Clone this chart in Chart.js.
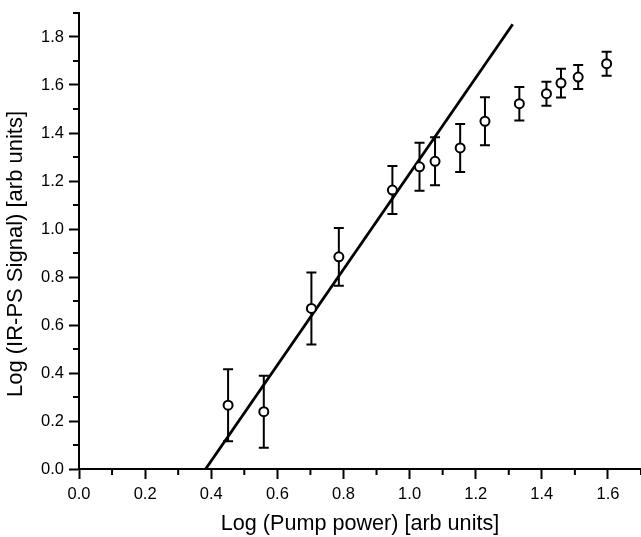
<!DOCTYPE html>
<html>
<head>
<meta charset="utf-8">
<script src="https://cdn.jsdelivr.net/npm/chart.js@4/dist/chart.umd.min.js"></script>
<style>
  body { margin: 0; background: #fff; }
  #wrap { width: 641px; height: 537px; }
</style>
</head>
<body>
<div id="wrap"><canvas id="powerChart" width="641" height="537"></canvas></div>
<script>
// measured points
const pumpLog = [0.451, 0.559, 0.703, 0.786, 0.948, 1.030, 1.077, 1.153, 1.228, 1.332, 1.414, 1.458, 1.510, 1.596];
const signalLog = [0.266, 0.239, 0.669, 0.884, 1.162, 1.259, 1.282, 1.338, 1.449, 1.522, 1.564, 1.608, 1.633, 1.689];
const signalErr = [0.15, 0.15, 0.15, 0.12, 0.10, 0.10, 0.10, 0.10, 0.10, 0.07, 0.05, 0.06, 0.05, 0.05];

// linear fit (slope ~2)
const fitX = [0.383, 1.312];
const fitY = [0.0, 1.853];

const xMax = 1.7;
const yMax = 1.9;

const yTitle = 'Log (IR-PS Signal) [arb units]';
const fontFam = '"Liberation Sans", Arial, sans-serif';

// error bars, drawn under the markers
const errorBars = {
    id: 'errorBars',
    beforeDatasetsDraw(chart) {
        const {ctx, scales: {x, y}} = chart;
        ctx.save();
        ctx.strokeStyle = '#000';
        ctx.lineWidth = 2;
        pumpLog.forEach((v, i) => {
            const px = x.getPixelForValue(v);
            const top = y.getPixelForValue(signalLog[i] + signalErr[i]);
            const bot = y.getPixelForValue(signalLog[i] - signalErr[i]);
            ctx.beginPath();
            ctx.moveTo(px, top);
            ctx.lineTo(px, bot);
            ctx.moveTo(px - 5, top);
            ctx.lineTo(px + 5, top);
            ctx.moveTo(px - 5, bot);
            ctx.lineTo(px + 5, bot);
            ctx.stroke();
        });
        ctx.restore();
    }
};

// short ticks halfway between labelled ones + y title (sits a bit below centre in the original)
const axisExtras = {
    id: 'axisExtras',
    afterDraw(chart) {
        const {ctx, chartArea, scales: {x, y}} = chart;
        ctx.save();
        ctx.strokeStyle = '#000';
        ctx.lineWidth = 2;
        ctx.beginPath();
        for (let v = 0.1; v <= xMax + 0.001; v += 0.2) {
            const px = x.getPixelForValue(v);
            ctx.moveTo(px, x.top);
            ctx.lineTo(px, x.top + 6);
        }
        for (let v = 0.1; v <= yMax + 0.001; v += 0.2) {
            const py = y.getPixelForValue(v);
            ctx.moveTo(y.right, py);
            ctx.lineTo(y.right - 6, py);
        }
        ctx.stroke();

        const cy = (chartArea.top + chartArea.bottom) / 2 + 13;
        ctx.translate(22, cy);
        ctx.rotate(-Math.PI / 2);
        ctx.fillStyle = '#000';
        ctx.font = '22px ' + fontFam;
        ctx.textAlign = 'center';
        ctx.textBaseline = 'alphabetic';
        ctx.fillText(yTitle, 0, 0);
        ctx.restore();
    }
};

new Chart(document.getElementById('powerChart'), {
    type: 'scatter',
    data: {
        datasets: [{
            label: 'data',
            data: pumpLog.map((v, i) => ({x: v, y: signalLog[i]})),
            pointRadius: 4.5,
            pointBackgroundColor: '#fff',
            pointBorderColor: '#000',
            pointBorderWidth: 2,
            order: 1
        }, {
            label: 'fit',
            data: fitX.map((v, i) => ({x: v, y: fitY[i]})),
            showLine: true,
            borderColor: '#000',
            borderWidth: 2.8,
            pointRadius: 0,
            order: 2
        }]
    },
    options: {
        responsive: false,
        animation: false,
        layout: { autoPadding: false, padding: { top: 13, right: 0, left: 0, bottom: 0 } },
        plugins: {
            legend: { display: false },
            tooltip: { enabled: false }
        },
        scales: {
            x: {
                type: 'linear',
                min: 0,
                max: xMax,
                afterFit: (scale) => {
                    scale.height = 68;
                    scale.paddingLeft = 0;
                    scale.paddingRight = 0;
                },
                border: { color: '#000', width: 2 },
                grid: {
                    drawOnChartArea: false,
                    tickLength: 10,
                    tickWidth: 2,
                    tickColor: '#000'
                },
                ticks: {
                    stepSize: 0.2,
                    includeBounds: false,
                    padding: 6,
                    color: '#000',
                    font: { family: fontFam, size: 16.5 },
                    callback: (v) => v.toFixed(1)
                },
                title: {
                    display: true,
                    text: 'Log (Pump power) [arb units]',
                    color: '#000',
                    padding: { top: 0, bottom: 0 },
                    font: { family: fontFam, size: 21.6 }
                }
            },
            y: {
                type: 'linear',
                min: 0,
                max: yMax,
                afterFit: (scale) => {
                    scale.width = 79;
                    scale.paddingTop = 0;
                    scale.paddingBottom = 0;
                },
                border: { color: '#000', width: 2 },
                grid: {
                    drawOnChartArea: false,
                    tickLength: 10,
                    tickWidth: 2,
                    tickColor: '#000'
                },
                ticks: {
                    stepSize: 0.2,
                    includeBounds: false,
                    padding: 5,
                    color: '#000',
                    font: { family: fontFam, size: 16.5 },
                    callback: (v) => v.toFixed(1)
                }
            }
        }
    },
    plugins: [errorBars, axisExtras]
});
</script>
</body>
</html>
